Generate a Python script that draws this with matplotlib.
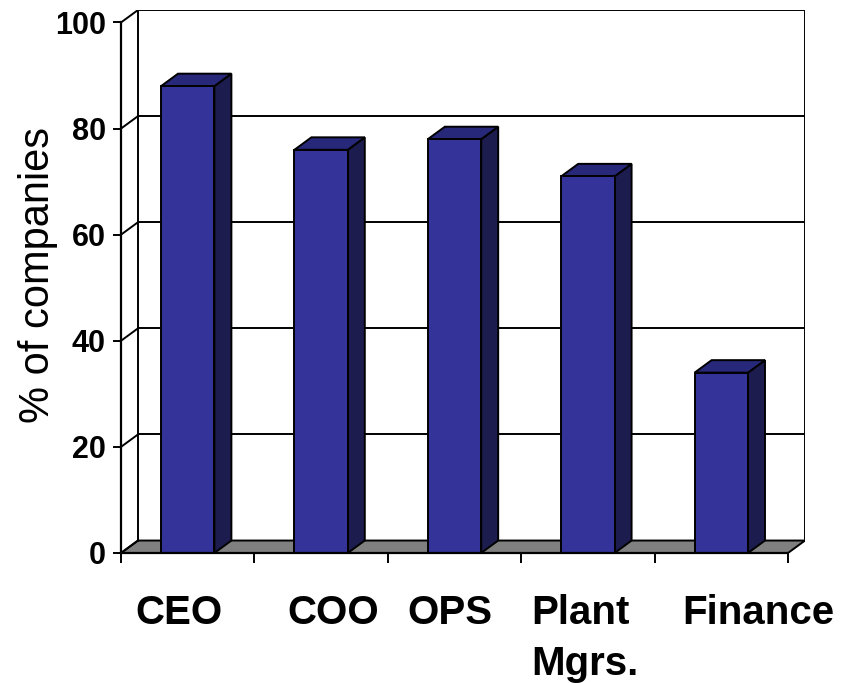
import matplotlib
matplotlib.use('Agg')
import matplotlib.pyplot as plt
from matplotlib.patches import Polygon

plt.rcParams['font.family'] = ['Liberation Sans', 'DejaVu Sans']

# survey results: share of companies per role
roles = ['CEO', 'COO', 'OPS', 'Plant\nMgrs.', 'Finance']
pct = [88, 76, 78, 71, 34]
yticks = [0, 20, 40, 60, 80, 100]

# look of the pseudo-3D box
front_col = '#333399'
top_col = '#28287a'
side_col = '#1c1c4e'
floor_col = '#808080'
bar_w = 0.4
ddx, ddy = 0.1275, 2.35          # depth offset (x in slots, y in %)
label_nudge = [-0.065, 0.09, -0.034, -0.02, 0.275]
lw = 1.4

fig = plt.figure(figsize=(8.48, 6.83), dpi=100)
ax = fig.add_axes([121 / 848, 130 / 683, 684 / 848, 543 / 683])
n = len(roles)
ax.set_xlim(0, n + ddx)
ax.set_ylim(0, 100 + ddy)

# floor
ax.add_patch(Polygon([(0, 0), (n, 0), (n + ddx, ddy), (ddx, ddy)], closed=True,
                     facecolor=floor_col, edgecolor='black', lw=lw, zorder=1))

# back wall edges and gridlines
ax.plot([ddx, ddx], [ddy, 100 + ddy], color='black', lw=lw, zorder=2)
ax.plot([n + ddx, n + ddx], [ddy, 100 + ddy], color='black', lw=lw, zorder=2)
for v in yticks:
    ax.plot([0, ddx], [v, v + ddy], color='black', lw=lw, zorder=2)
    if v > 0:
        ax.plot([ddx, n + ddx], [v + ddy, v + ddy], color='black', lw=lw, zorder=2)

# bars
for i, v in enumerate(pct):
    x0 = i + (1 - bar_w) / 2
    x1 = x0 + bar_w
    ax.add_patch(Polygon([(x1, 0), (x1 + ddx, ddy), (x1 + ddx, v + ddy), (x1, v)],
                         closed=True, facecolor=side_col, edgecolor='black', lw=lw, zorder=3))
    ax.add_patch(Polygon([(x0, v), (x1, v), (x1 + ddx, v + ddy), (x0 + ddx, v + ddy)],
                         closed=True, facecolor=top_col, edgecolor='black', lw=lw, zorder=3))
    ax.add_patch(Polygon([(x0, 0), (x1, 0), (x1, v), (x0, v)],
                         closed=True, facecolor=front_col, edgecolor='black', lw=lw, zorder=4))

# front axes
for s in ['top', 'right']:
    ax.spines[s].set_visible(False)
ax.spines['left'].set_bounds(0, 100)
ax.spines['bottom'].set_bounds(0, n)
for s in ['left', 'bottom']:
    ax.spines[s].set_linewidth(1.6)
    ax.spines[s].set_zorder(5)
ax.set_yticks(yticks)
ax.set_yticklabels([str(t) for t in yticks], fontsize=22, fontweight='bold')
ax.tick_params(axis='y', direction='out', length=6, width=1.4, pad=5)
ax.set_xticks(range(n + 1))
ax.set_xticklabels([])
ax.tick_params(axis='x', direction='out', length=7.5, width=1.4)

for i, r in enumerate(roles):
    ax.text(i + 0.5 + label_nudge[i], -0.075, r, transform=ax.get_xaxis_transform(),
            ha='center', va='top', multialignment='left', fontsize=29,
            fontweight='bold', linespacing=1.45)

fig.text(38 / 848, 1 - 275 / 683, '% of companies', rotation=90,
         ha='center', va='center', fontsize=30)

fig.savefig('out.png', dpi=100)
